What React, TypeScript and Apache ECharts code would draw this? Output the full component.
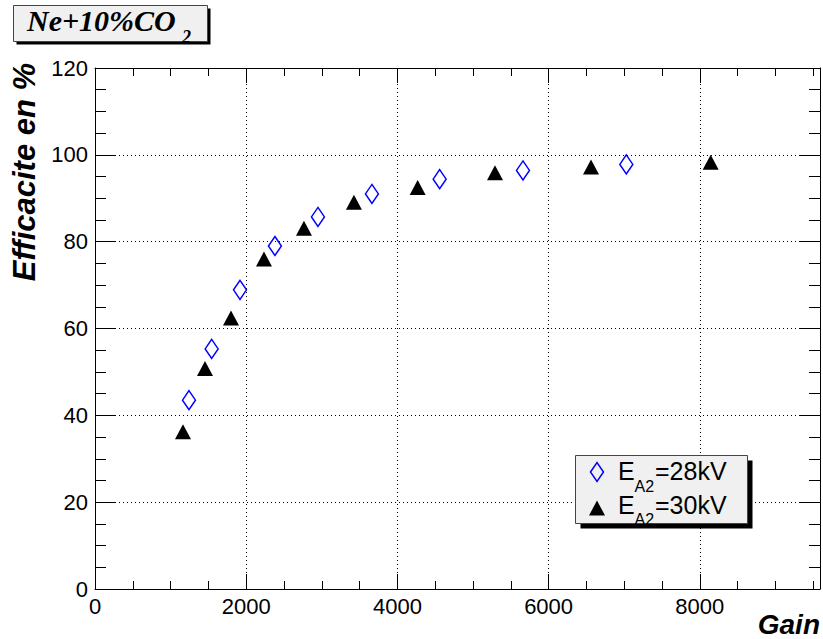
import React, { useEffect, useRef } from "react";
import * as echarts from "echarts";

// ---- data ----
const gain28 = [1243, 1543, 1918, 2380, 2949, 3663, 4559, 5661, 7028];
const eff28 = [43.5, 55.3, 68.9, 79.0, 85.7, 91.0, 94.4, 96.4, 97.8];
const gain30 = [1164, 1455, 1799, 2235, 2764, 3425, 4268, 5291, 6561, 8144];
const eff30 = [36.2, 50.8, 62.4, 76.0, 83.1, 89.1, 92.5, 95.9, 97.2, 98.3];

const seriesNames = ["E_A2=28kV", "E_A2=30kV"];
const X_MIN = 0;
const X_MAX = 9590;
const X_MAJOR = 2000;
const X_MINOR = 500;
const Y_MIN = 0;
const Y_MAX = 120;
const Y_MAJOR = 20;

const SANS = "'Liberation Sans', Arial, Helvetica, sans-serif";
const SERIF = "'Liberation Serif', 'Times New Roman', serif";

export default function App() {
  const ref = useRef<HTMLDivElement>(null);

  useEffect(() => {
    if (!ref.current) return;
    const chart = echarts.init(ref.current, null, { renderer: "svg" });

    const dotted = { color: "#000", width: 1, type: [1, 3] as any };
    const noAxis = { show: false };

    const option: any = {
      animation: false,
      backgroundColor: "#ffffff",
      grid: [
        { left: 95, right: 3, top: 68, bottom: 50 },
        { left: 95, right: 3, top: 68, bottom: 50 },
      ],
      xAxis: [
        {
          type: "value",
          gridIndex: 0,
          position: "bottom",
          min: X_MIN,
          max: X_MAX,
          interval: X_MAJOR,
          axisLine: { show: true, onZero: false, lineStyle: { color: "#000", width: 1 } },
          axisTick: { show: true, inside: true, length: 15, lineStyle: { color: "#000" } },
          axisLabel: {
            show: true,
            margin: 6,
            fontSize: 22,
            color: "#000",
            fontFamily: SANS,
            showMaxLabel: false,
            formatter: (v: number) => String(v),
          },
          splitLine: { show: true, lineStyle: dotted },
        },
        {
          type: "value",
          gridIndex: 0,
          position: "top",
          min: X_MIN,
          max: X_MAX,
          interval: X_MAJOR,
          axisLine: { show: true, onZero: false, lineStyle: { color: "#000", width: 1 } },
          axisTick: { show: true, inside: true, length: 15, lineStyle: { color: "#000" } },
          axisLabel: noAxis,
          splitLine: noAxis,
        },
        {
          type: "value",
          gridIndex: 1,
          position: "bottom",
          min: X_MIN,
          max: X_MAX,
          interval: X_MINOR,
          axisLine: { show: false, onZero: false },
          axisTick: { show: true, inside: true, length: 8, lineStyle: { color: "#000" } },
          axisLabel: noAxis,
          splitLine: noAxis,
        },
        {
          type: "value",
          gridIndex: 1,
          position: "top",
          min: X_MIN,
          max: X_MAX,
          interval: X_MINOR,
          axisLine: { show: false, onZero: false },
          axisTick: { show: true, inside: true, length: 8, lineStyle: { color: "#000" } },
          axisLabel: noAxis,
          splitLine: noAxis,
        },
      ],
      yAxis: [
        {
          type: "value",
          gridIndex: 0,
          position: "left",
          min: Y_MIN,
          max: Y_MAX,
          interval: Y_MAJOR,
          axisLine: { show: true, onZero: false, lineStyle: { color: "#000", width: 1 } },
          axisTick: { show: true, inside: true, length: 21, lineStyle: { color: "#000" } },
          minorTick: { show: true, splitNumber: 4, length: 11, lineStyle: { color: "#000" } },
          axisLabel: { show: true, margin: 7, fontSize: 22, color: "#000", fontFamily: SANS },
          splitLine: { show: true, lineStyle: dotted },
        },
        {
          type: "value",
          gridIndex: 0,
          position: "right",
          min: Y_MIN,
          max: Y_MAX,
          interval: Y_MAJOR,
          axisLine: { show: true, onZero: false, lineStyle: { color: "#000", width: 1 } },
          axisTick: { show: true, inside: true, length: 21, lineStyle: { color: "#000" } },
          minorTick: { show: true, splitNumber: 4, length: 11, lineStyle: { color: "#000" } },
          axisLabel: noAxis,
          splitLine: noAxis,
        },
        { type: "value", gridIndex: 1, show: false, min: Y_MIN, max: Y_MAX },
      ],
      series: [
        {
          name: seriesNames[0],
          type: "scatter",
          xAxisIndex: 0,
          yAxisIndex: 0,
          symbol: "diamond",
          symbolSize: [13, 19],
          silent: true,
          z: 5,
          itemStyle: { color: "rgba(0,0,0,0)", borderColor: "#0000ff", borderWidth: 1.5, opacity: 1 },
          data: gain28.map((g, i) => [g, eff28[i]]),
        },
        {
          name: seriesNames[1],
          type: "scatter",
          xAxisIndex: 0,
          yAxisIndex: 0,
          symbol: "triangle",
          symbolSize: [16, 15],
          silent: true,
          z: 5,
          itemStyle: { color: "#000000", opacity: 1 },
          data: gain30.map((g, i) => [g, eff30[i]]),
        },
      ],
      graphic: [
        // title box
        { type: "rect", z: 20, shape: { x: 16.5, y: 8.5, width: 194, height: 36 }, style: { fill: "#000" } },
        { type: "rect", z: 21, shape: { x: 13.5, y: 5.5, width: 194, height: 36 }, style: { fill: "#f0f0f0", stroke: "#444", lineWidth: 1 } },
        {
          type: "text", z: 22, x: 27, y: 20.5,
          style: { text: "Ne+10%CO", font: `italic bold 30px ${SERIF}`, fill: "#000", align: "left", verticalAlign: "middle" },
        },
        {
          type: "text", z: 22, x: 182, y: 37,
          style: { text: "2", font: `italic bold 18px ${SERIF}`, fill: "#000", align: "left", verticalAlign: "middle" },
        },
        // y-axis title
        {
          type: "text", z: 22, x: 24, y: 172, rotation: Math.PI / 2,
          style: { text: "Efficacite en %", font: `italic bold 31px ${SANS}`, fill: "#000", align: "center", verticalAlign: "middle" },
        },
        // x-axis title
        {
          type: "text", z: 22, x: 820, y: 624,
          style: { text: "Gain", font: `italic bold 28px ${SANS}`, fill: "#000", align: "right", verticalAlign: "middle" },
        },
        // legend box
        { type: "rect", z: 20, shape: { x: 580.5, y: 460.5, width: 172, height: 68 }, style: { fill: "#000" } },
        { type: "rect", z: 21, shape: { x: 575.5, y: 455.5, width: 172, height: 68 }, style: { fill: "#f0f0f0", stroke: "#444", lineWidth: 1 } },
        {
          type: "polygon", z: 22,
          shape: { points: [[590.5, 472], [597, 462.5], [603.5, 472], [597, 481.5]] },
          style: { fill: "none", stroke: "#0000ff", lineWidth: 1.5 },
        },
        {
          type: "polygon", z: 22,
          shape: { points: [[589, 515.5], [597, 500.5], [605, 515.5]] },
          style: { fill: "#000" },
        },
        { type: "text", z: 22, x: 618, y: 471.3, style: { text: "E", font: `25px ${SANS}`, fill: "#000", verticalAlign: "middle" } },
        { type: "text", z: 22, x: 634.5, y: 486.5, style: { text: "A2", font: `16px ${SANS}`, fill: "#000", verticalAlign: "middle" } },
        { type: "text", z: 22, x: 655, y: 471.3, style: { text: "=28kV", font: `25px ${SANS}`, fill: "#000", verticalAlign: "middle" } },
        { type: "text", z: 22, x: 618, y: 504.5, style: { text: "E", font: `25px ${SANS}`, fill: "#000", verticalAlign: "middle" } },
        { type: "text", z: 22, x: 634.5, y: 519.5, style: { text: "A2", font: `16px ${SANS}`, fill: "#000", verticalAlign: "middle" } },
        { type: "text", z: 22, x: 655, y: 504.5, style: { text: "=30kV", font: `25px ${SANS}`, fill: "#000", verticalAlign: "middle" } },
      ],
    };

    chart.setOption(option);
    return () => chart.dispose();
  }, []);

  return (
    <div
      ref={ref}
      style={{ position: "fixed", left: 0, top: 0, width: 823, height: 639, background: "#fff" }}
    />
  );
}
